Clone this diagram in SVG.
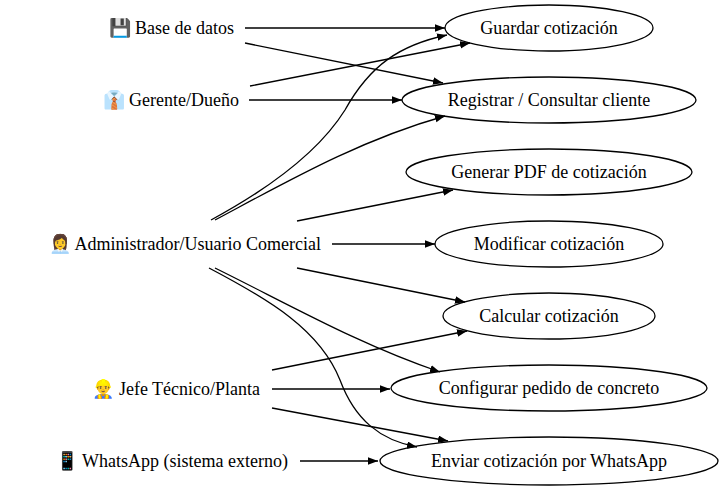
<svg xmlns="http://www.w3.org/2000/svg" width="723" height="491" viewBox="0 0 723 491">
<style>
text{font-family:"Liberation Serif","Times New Roman",serif;font-size:18px;fill:#000}
.uc text{text-anchor:middle}
.actor text{text-anchor:end}
ellipse{fill:none;stroke:#000;stroke-width:1.3}
.edges path{fill:none;stroke:#000;stroke-width:1.3;marker-end:url(#ah)}
</style>
<defs>
<marker id="ah" markerUnits="userSpaceOnUse" markerWidth="11" markerHeight="8" refX="10" refY="3.75" orient="auto">
<path d="M0,0 L10,3.75 L0,7.5 z" fill="#000"/>
</marker>
</defs>
<rect width="723" height="491" fill="#fff"/>
<g class="edges" id="edges">
<path d="M245,28 L445,28"/>
<path d="M245,43 L443,83"/>
<path d="M250,86 L470,43"/>
<path d="M249,100 L402,100"/>
<path d="M211,220 C270,188 320,150 345,110 C370,65 400,45 447,35"/>
<path d="M215,220 C290,180 360,140 445,116"/>
<path d="M297,221 L453,190"/>
<path d="M332,244 L435,244"/>
<path d="M297,268 L465,302"/>
<path d="M215,268 C290,305 360,345 440,372"/>
<path d="M209,268 C270,300 320,330 340,380 C355,420 380,440 417,447"/>
<path d="M272,370 L467,331"/>
<path d="M272,389 L390,389"/>
<path d="M272,408 L448,441"/>
<path d="M300,461 L378,461"/>
</g>
<g class="actor" id="n_bd"><text x="234" y="34">💾 Base de datos</text></g>
<g class="actor" id="n_ger"><text x="239" y="106">👔 Gerente/Dueño</text></g>
<g class="actor" id="n_admin"><text x="321" y="250">👩‍💼 Administrador/Usuario Comercial</text></g>
<g class="actor" id="n_jefe"><text x="260" y="395">👷‍♂️ Jefe Técnico/Planta</text></g>
<g class="actor" id="n_wa"><text x="288" y="467">📱 WhatsApp (sistema externo)</text></g>
<g class="uc" id="uc_guardar"><ellipse cx="549" cy="28" rx="104" ry="23"/><text x="549" y="34">Guardar cotización</text></g>
<g class="uc" id="uc_registrar"><ellipse cx="549" cy="100" rx="147" ry="23"/><text x="549" y="106">Registrar / Consultar cliente</text></g>
<g class="uc" id="uc_pdf"><ellipse cx="549" cy="172" rx="143" ry="23"/><text x="549" y="178">Generar PDF de cotización</text></g>
<g class="uc" id="uc_modificar"><ellipse cx="549" cy="244" rx="114" ry="23"/><text x="549" y="250">Modificar cotización</text></g>
<g class="uc" id="uc_calcular"><ellipse cx="549" cy="316" rx="106" ry="23"/><text x="549" y="322">Calcular cotización</text></g>
<g class="uc" id="uc_configurar"><ellipse cx="549" cy="388" rx="158" ry="23"/><text x="549" y="394">Configurar pedido de concreto</text></g>
<g class="uc" id="uc_enviar"><ellipse cx="549" cy="461" rx="169" ry="24"/><text x="549" y="467">Enviar cotización por WhatsApp</text></g>
</svg>
